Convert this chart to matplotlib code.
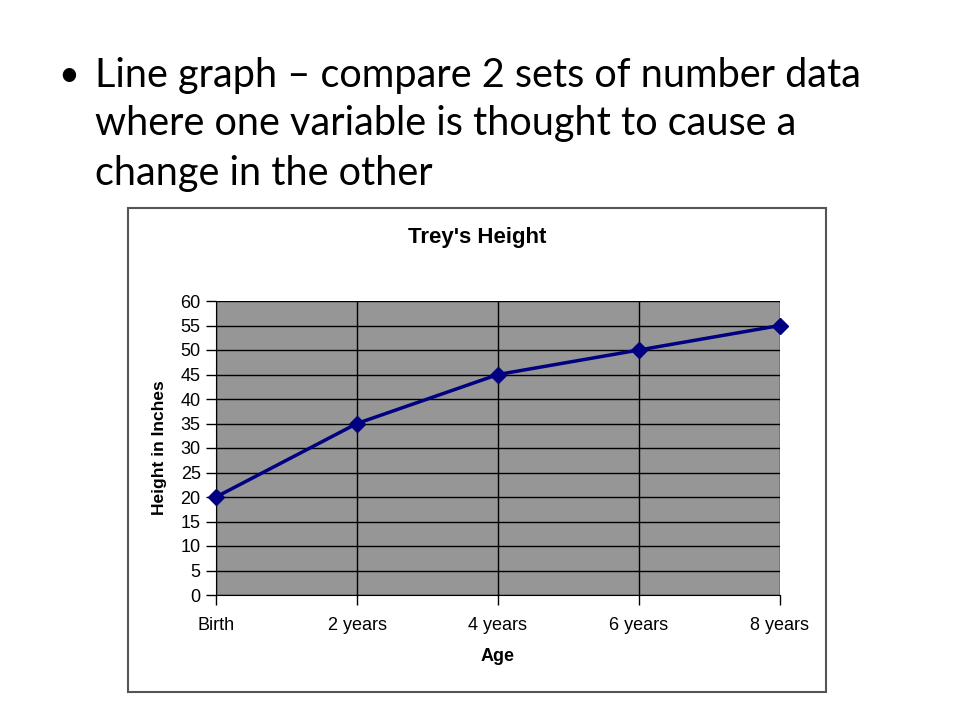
import matplotlib.pyplot as plt
from matplotlib.patches import Rectangle

ages = ['Birth', '2 years', '4 years', '6 years', '8 years']
height_in = [20, 35, 45, 50, 55]
y_ticks = list(range(0, 61, 5))

bullet_lines = ['Line graph \u2013 compare 2 sets of number data',
                'where one variable is thought to cause a',
                'change in the other']

fig = plt.figure(figsize=(9.6, 7.2), dpi=100)
fig.patch.set_facecolor('white')

# slide bullet text
fig.text(58 / 960, 1 - 75 / 720, '\u2022', fontsize=26, family='Lato', va='center')
for i, line in enumerate(bullet_lines):
    fig.text(95 / 960, 1 - (75 + 49 * i) / 720, line, fontsize=28.5,
             family='Lato', va='center')

# chart frame
fig.patches.append(Rectangle((128 / 960, 1 - 692 / 720), 698 / 960, 484 / 720,
                             transform=fig.transFigure, fill=False,
                             edgecolor='#555555', linewidth=1.5))

ax = fig.add_axes([216 / 960, 1 - 595 / 720, 564 / 960, 294 / 720])
ax.set_facecolor('#969696')
x = list(range(len(ages)))
ax.plot(x, height_in, color='#000080', linewidth=2.5, marker='D',
        markersize=8, clip_on=False, zorder=3)

ax.set_xlim(0, len(ages) - 1)
ax.set_ylim(0, 60)
ax.set_xticks(x)
ax.set_xticklabels(ages, family='Liberation Sans', fontsize=13)
ax.set_yticks(y_ticks)
ax.set_yticklabels([str(v) for v in y_ticks], family='Liberation Sans', fontsize=13)
ax.grid(True, color='black', linewidth=1)
ax.set_axisbelow(True)
ax.tick_params(direction='out', length=7, width=1, color='black')
ax.tick_params(axis='x', pad=9)
ax.tick_params(axis='y', pad=4)

for s in ['top', 'right']:
    ax.spines[s].set_visible(False)
for s in ['left', 'bottom']:
    ax.spines[s].set_color('black')

fig.text(477 / 960, 1 - 238 / 720, "Trey's Height", family='Liberation Sans',
         fontsize=16, fontweight='bold', ha='center', va='center')
ax.set_xlabel('Age', family='Liberation Sans', fontsize=13, fontweight='bold', labelpad=10)
ax.set_ylabel('Height in Inches', family='Liberation Sans', fontsize=12.5,
              fontweight='bold', labelpad=10)

fig.savefig('out.png', dpi=100)
